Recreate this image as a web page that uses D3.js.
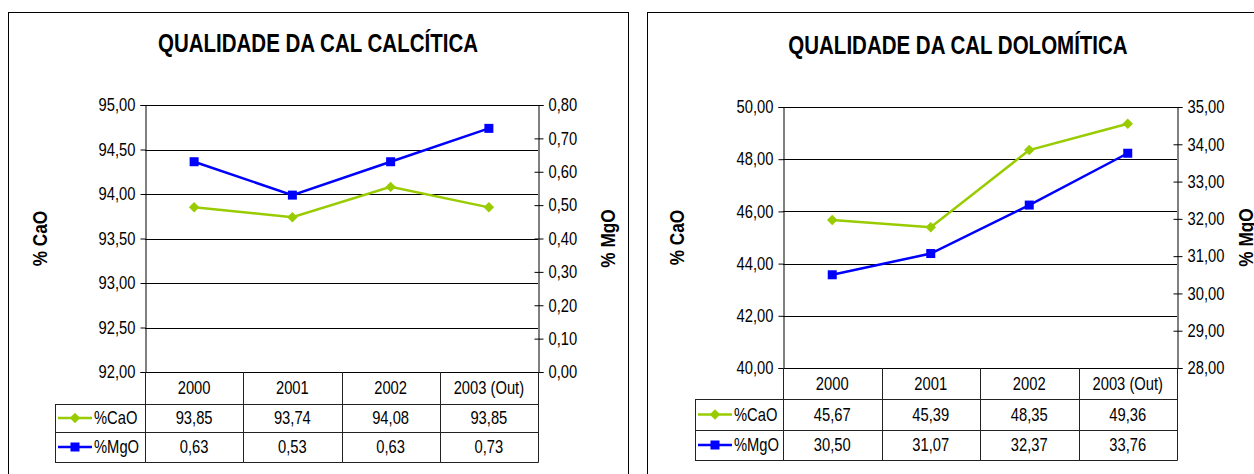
<!DOCTYPE html>
<html><head><meta charset="utf-8">
<script src="https://cdn.jsdelivr.net/npm/d3@7"></script>
<style>
html,body{margin:0;padding:0;background:#fff;}
svg{display:block;}
text{font-family:"Liberation Sans",Arial,sans-serif;fill:#000;}
</style></head>
<body>
<svg id="c" width="1254" height="474"></svg>
<script>
const categories = ["2000", "2001", "2002", "2003 (Out)"];
const seriesNames = ["%CaO", "%MgO"];
const calciticCaO = [93.85, 93.74, 94.08, 93.85];
const calciticMgO = [0.63, 0.53, 0.63, 0.73];
const dolomiticCaO = [45.67, 45.39, 48.35, 49.36];
const dolomiticMgO = [30.50, 31.07, 32.37, 33.76];
const calciticLeftTicks = [92.0, 92.5, 93.0, 93.5, 94.0, 94.5, 95.0];
const calciticRightTicks = [0.0, 0.1, 0.2, 0.3, 0.4, 0.5, 0.6, 0.7, 0.8];
const dolomiticLeftTicks = [40, 42, 44, 46, 48, 50];
const dolomiticRightTicks = [28, 29, 30, 31, 32, 33, 34, 35];
const titles = ["QUALIDADE DA CAL CALCÍTICA", "QUALIDADE DA CAL DOLOMÍTICA"];

const colors = {CaO: "#99CC00", MgO: "#0000FF"};
const fmt = v => d3.format(".2f")(v).replace(".", ",");
const NARROW = 0.82;

const svg = d3.select("#c");

const charts = [
  {title: titles[0], cao: calciticCaO, mgo: calciticMgO, lt: calciticLeftTicks, rt: calciticRightTicks,
   panel: {x: 8.5, y: 12.5, w: 620, h: 470}, px0: 145, px1: 538, py0: 105, py1: 372,
   rows: [372, 404, 432, 462], legX: 55, titleX: 318, titleY: 52, labL: 40, labR: 608},
  {title: titles[1], cao: dolomiticCaO, mgo: dolomiticMgO, lt: dolomiticLeftTicks, rt: dolomiticRightTicks,
   panel: {x: 647.5, y: 12.5, w: 620, h: 470}, px0: 783, px1: 1177, py0: 107, py1: 368,
   rows: [368, 399, 430, 460], legX: 695, titleX: 958, titleY: 54, labL: 677, labR: 1246}
];

charts.forEach(c => {
  const g = svg.append("g");
  g.append("rect").attr("x", c.panel.x).attr("y", c.panel.y).attr("width", c.panel.w).attr("height", c.panel.h)
    .attr("fill", "#fff").attr("stroke", "#000").attr("stroke-width", 1);
  g.append("text").attr("x", c.titleX).attr("y", c.titleY).attr("text-anchor", "middle")
    .attr("font-size", 25).attr("font-weight", "bold").text(c.title);

  const x = d3.scaleBand().domain(categories).range([c.px0, c.px1]);
  const yL = d3.scaleLinear().domain(d3.extent(c.lt)).range([c.py1, c.py0]);
  const yR = d3.scaleLinear().domain(d3.extent(c.rt)).range([c.py1, c.py0]);

  // gridlines
  g.append("g").selectAll("line").data(c.lt).join("line")
    .attr("x1", c.px0).attr("x2", c.px1).attr("y1", d => Math.round(yL(d)) + 0.5).attr("y2", d => Math.round(yL(d)) + 0.5)
    .attr("stroke", "#000").attr("stroke-width", 1);

  // left axis
  const la = g.append("g").attr("transform", `translate(${c.px0 + 0.5},0)`)
    .call(d3.axisLeft(yL).tickValues(c.lt).tickFormat(fmt).tickSize(5).tickPadding(5));
  la.select(".domain").attr("stroke", "#000");
  la.selectAll("text").attr("font-size", 18).attr("font-family", null);
  la.selectAll(".tick line").attr("stroke", "#000");

  // right axis
  const ra = g.append("g").attr("transform", `translate(${c.px1 + 0.5},0)`)
    .call(d3.axisRight(yR).tickValues(c.rt).tickFormat(fmt).tickSize(5).tickPadding(5));
  ra.select(".domain").attr("stroke", "#000");
  ra.selectAll("text").attr("font-size", 18).attr("font-family", null);
  ra.selectAll(".tick line").attr("x1", -4).attr("stroke", "#000");

  // axis titles
  g.append("text").attr("transform", `translate(${c.labL},${(c.py0 + c.py1) / 2}) rotate(-90)`)
    .attr("text-anchor", "middle").attr("dy", "0.35em").attr("font-size", 21).attr("font-weight", "bold").text("% CaO");
  g.append("text").attr("transform", `translate(${c.labR},${(c.py0 + c.py1) / 2}) rotate(-90)`)
    .attr("text-anchor", "middle").attr("dy", "0.35em").attr("font-size", 21).attr("font-weight", "bold").text("% MgO");

  // lines
  const lineL = d3.line().x((d, i) => x(categories[i]) + x.bandwidth() / 2).y(d => yL(d));
  const lineR = d3.line().x((d, i) => x(categories[i]) + x.bandwidth() / 2).y(d => yR(d));
  g.append("path").attr("d", lineL(c.cao)).attr("fill", "none").attr("stroke", colors.CaO).attr("stroke-width", 2.5);
  g.append("path").attr("d", lineR(c.mgo)).attr("fill", "none").attr("stroke", colors.MgO).attr("stroke-width", 2.5);
  const diamond = d3.symbol().type(d3.symbolDiamond2).size(70);
  g.append("g").selectAll("path").data(c.cao).join("path")
    .attr("transform", (d, i) => `translate(${x(categories[i]) + x.bandwidth() / 2},${yL(d)})`)
    .attr("d", diamond).attr("fill", colors.CaO);
  g.append("g").selectAll("rect").data(c.mgo).join("rect")
    .attr("x", (d, i) => x(categories[i]) + x.bandwidth() / 2 - 4.5).attr("y", d => yR(d) - 4.5)
    .attr("width", 9).attr("height", 9).attr("fill", colors.MgO);

  // data table
  const r = c.rows;
  const tl = g.append("g").attr("stroke", "#222").attr("stroke-width", 1);
  [[c.px0, r[1]], [c.legX, r[1]], [c.legX, r[2]], [c.legX, r[3]]].forEach(([x0, y]) => {
    tl.append("line").attr("x1", x0).attr("x2", c.px1 + 0.5).attr("y1", y + 0.5).attr("y2", y + 0.5);
  });
  const cols = categories.map(d => x(d)).concat([c.px1]);
  cols.forEach(cx => tl.append("line").attr("x1", Math.round(cx) + 0.5).attr("x2", Math.round(cx) + 0.5).attr("y1", r[0]).attr("y2", r[3] + 0.5));
  tl.append("line").attr("x1", c.legX + 0.5).attr("x2", c.legX + 0.5).attr("y1", r[1]).attr("y2", r[3] + 0.5);

  g.append("g").selectAll("text").data(categories).join("text")
    .attr("x", d => x(d) + x.bandwidth() / 2).attr("y", (r[0] + r[1]) / 2).attr("dy", "0.36em")
    .attr("text-anchor", "middle").attr("font-size", 18).text(d => d);
  [[c.cao, r[1], r[2]], [c.mgo, r[2], r[3]]].forEach(([vals, a, b]) => {
    g.append("g").selectAll("text").data(vals).join("text")
      .attr("x", (d, i) => x(categories[i]) + x.bandwidth() / 2).attr("y", (a + b) / 2).attr("dy", "0.36em")
      .attr("text-anchor", "middle").attr("font-size", 18).text(d => fmt(d));
  });
  [[seriesNames[0], colors.CaO, "d", r[1], r[2]], [seriesNames[1], colors.MgO, "s", r[2], r[3]]].forEach(([name, col, mk, a, b]) => {
    const cy = (a + b) / 2;
    g.append("line").attr("x1", c.legX + 3).attr("x2", c.legX + 37).attr("y1", cy).attr("y2", cy)
      .attr("stroke", col).attr("stroke-width", 2.5);
    if (mk === "d") g.append("path").attr("transform", `translate(${c.legX + 20},${cy})`).attr("d", diamond).attr("fill", col);
    else g.append("rect").attr("x", c.legX + 15.5).attr("y", cy - 4.5).attr("width", 9).attr("height", 9).attr("fill", col);
    g.append("text").attr("x", c.legX + 39).attr("y", cy).attr("dy", "0.36em").attr("font-size", 18).text(name);
  });
});

// condense all text horizontally (Arial Narrow look) around each text's anchor point
svg.selectAll("text").each(function () {
  const t = d3.select(this);
  const ax = +t.attr("x") || 0, ay = +t.attr("y") || 0;
  const prev = t.attr("transform") || "";
  t.attr("transform", `${prev} translate(${ax},${ay}) scale(${NARROW},1) translate(${-ax},${-ay})`);
});
</script>
</body></html>
